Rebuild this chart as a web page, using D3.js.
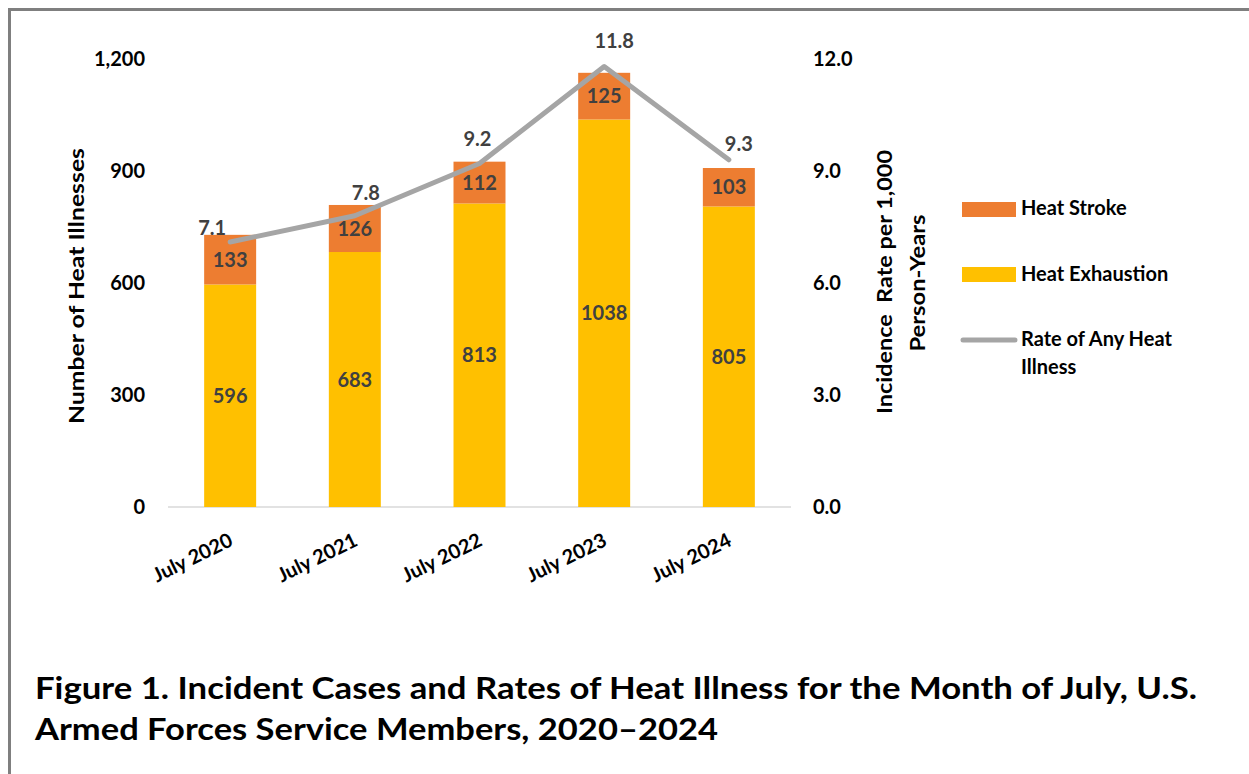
<!DOCTYPE html>
<html>
<head>
<meta charset="utf-8">
<script src="https://cdn.jsdelivr.net/npm/d3@7/dist/d3.min.js"></script>
<style>
  html, body { margin: 0; padding: 0; background: #fff; }
  svg text { font-family: Lato, "Open Sans", sans-serif; font-weight: bold; }
</style>
</head>
<body>
<div id="viz-container"></div>
<script>
var categories = ['July 2020', 'July 2021', 'July 2022', 'July 2023', 'July 2024'];
var exhaustion = [596, 683, 813, 1038, 805];
var stroke = [133, 126, 112, 125, 103];
var rates = [7.1, 7.8, 9.2, 11.8, 9.3];
var leftTicks = [0, 300, 600, 900, 1200];
var rightTicks = [0, 3, 6, 9, 12];

// where excel put the rate labels, relative to each point
var rateLabelOffset = [[-18, -14], [11, -23], [-2, -25], [10, -26], [10, -16]];

var ORANGE = '#ED7D31',
    YELLOW = '#FFC000',
    GREY = '#A5A5A5',
    LABEL = '#404040';

function init() {
	var svg = d3.select('#viz-container').append('svg')
		.attr('width', 1249)
		.attr('height', 774);

	// frame (only top and left edges show in the crop)
	svg.append('rect')
		.attr('x', 9.5).attr('y', 9.5)
		.attr('width', 1300).attr('height', 800)
		.attr('fill', 'none')
		.attr('stroke', '#7F7F7F')
		.attr('stroke-width', 3);

	var x = d3.scaleBand()
		.domain(categories)
		.range([168, 791])
		.paddingInner(0.583)
		.paddingOuter(0.29);

	var y = d3.scaleLinear().domain([0, 1200]).range([507, 59]);
	var yR = d3.scaleLinear().domain([0, 12]).range([507, 59]);

	var data = categories.map(function(c, i) {
		return {cat: c, exh: exhaustion[i], str: stroke[i], rate: rates[i]};
	});

	// baseline
	svg.append('line')
		.attr('x1', 168).attr('x2', 791)
		.attr('y1', y(0)).attr('y2', y(0))
		.attr('stroke', '#D9D9D9')
		.attr('stroke-width', 1.5);

	// left ticks
	svg.append('g').selectAll('text')
		.data(leftTicks)
		.enter().append('text')
		.attr('x', 145)
		.attr('y', function(d) { return y(d); })
		.attr('dy', '0.36em')
		.attr('text-anchor', 'end')
		.attr('font-size', 20)
		.text(function(d) { return d3.format(',')(d); });

	// right ticks
	svg.append('g').selectAll('text')
		.data(rightTicks)
		.enter().append('text')
		.attr('x', 813)
		.attr('y', function(d) { return yR(d); })
		.attr('dy', '0.36em')
		.attr('font-size', 20)
		.text(function(d) { return d3.format('.1f')(d); });

	// stacked bars
	var bars = svg.append('g');
	bars.selectAll('.exh')
		.data(data)
		.enter().append('rect')
		.attr('class', 'exh')
		.attr('x', function(d) { return x(d.cat); })
		.attr('width', x.bandwidth())
		.attr('y', function(d) { return y(d.exh); })
		.attr('height', function(d) { return y(0) - y(d.exh); })
		.attr('fill', YELLOW);

	bars.selectAll('.str')
		.data(data)
		.enter().append('rect')
		.attr('class', 'str')
		.attr('x', function(d) { return x(d.cat); })
		.attr('width', x.bandwidth())
		.attr('y', function(d) { return y(d.exh + d.str); })
		.attr('height', function(d) { return y(d.exh) - y(d.exh + d.str); })
		.attr('fill', ORANGE);

	// segment labels
	bars.selectAll('.exh-label')
		.data(data)
		.enter().append('text')
		.attr('x', function(d) { return x(d.cat) + x.bandwidth() / 2; })
		.attr('y', function(d) { return (y(0) + y(d.exh)) / 2; })
		.attr('dy', '0.36em')
		.attr('text-anchor', 'middle')
		.attr('font-size', 20)
		.attr('fill', LABEL)
		.text(function(d) { return d.exh; });

	bars.selectAll('.str-label')
		.data(data)
		.enter().append('text')
		.attr('x', function(d) { return x(d.cat) + x.bandwidth() / 2; })
		.attr('y', function(d) { return (y(d.exh) + y(d.exh + d.str)) / 2; })
		.attr('dy', '0.36em')
		.attr('text-anchor', 'middle')
		.attr('font-size', 20)
		.attr('fill', LABEL)
		.text(function(d) { return d.str; });

	// rate line
	var cx = function(d) { return x(d.cat) + x.bandwidth() / 2; };
	var line = d3.line()
		.x(cx)
		.y(function(d) { return yR(d.rate); });

	svg.append('path')
		.datum(data)
		.attr('d', line)
		.attr('fill', 'none')
		.attr('stroke', GREY)
		.attr('stroke-width', 5)
		.attr('stroke-linecap', 'round')
		.attr('stroke-linejoin', 'round');

	svg.append('g').selectAll('text')
		.data(data)
		.enter().append('text')
		.attr('x', function(d, i) { return cx(d) + rateLabelOffset[i][0]; })
		.attr('y', function(d, i) { return yR(d.rate) + rateLabelOffset[i][1]; })
		.attr('dy', '0.36em')
		.attr('text-anchor', 'middle')
		.attr('font-size', 20)
		.attr('fill', LABEL)
		.text(function(d) { return d3.format('.1f')(d.rate); });

	// category labels
	svg.append('g').selectAll('text')
		.data(categories)
		.enter().append('text')
		.attr('transform', function(d) {
			return 'translate(' + (x(d) + x.bandwidth() / 2 + 4) + ',545) rotate(-26)';
		})
		.attr('text-anchor', 'end')
		.attr('font-size', 20)
		.text(function(d) { return d; });

	// axis titles
	svg.append('text')
		.attr('transform', 'translate(84,286) rotate(-90)')
		.attr('text-anchor', 'middle')
		.attr('font-size', 20)
		.attr('textLength', 276)
		.attr('lengthAdjust', 'spacingAndGlyphs')
		.text('Number of Heat Illnesses');

	svg.append('text')
		.attr('transform', 'translate(892,282) rotate(-90)')
		.attr('text-anchor', 'middle')
		.attr('font-size', 20)
		.style('white-space', 'pre')
		.attr('textLength', 264)
		.attr('lengthAdjust', 'spacingAndGlyphs')
		.text('Incidence  Rate per 1,000');

	svg.append('text')
		.attr('transform', 'translate(925,283) rotate(-90)')
		.attr('text-anchor', 'middle')
		.attr('font-size', 20)
		.attr('textLength', 137)
		.attr('lengthAdjust', 'spacingAndGlyphs')
		.text('Person-Years');

	// legend
	var legend = svg.append('g');
	legend.append('rect')
		.attr('x', 962).attr('y', 202).attr('width', 54).attr('height', 15)
		.attr('fill', ORANGE);
	legend.append('text')
		.attr('x', 1021).attr('y', 215)
		.attr('font-size', 20)
		.text('Heat Stroke');

	legend.append('rect')
		.attr('x', 962).attr('y', 267).attr('width', 54).attr('height', 15)
		.attr('fill', YELLOW);
	legend.append('text')
		.attr('x', 1021).attr('y', 281)
		.attr('font-size', 20)
		.text('Heat Exhaustion');

	legend.append('line')
		.attr('x1', 963).attr('x2', 1015)
		.attr('y1', 340).attr('y2', 340)
		.attr('stroke', GREY)
		.attr('stroke-width', 5)
		.attr('stroke-linecap', 'round');
	legend.append('text')
		.attr('x', 1021).attr('y', 346)
		.attr('font-size', 20)
		.text('Rate of Any Heat');
	legend.append('text')
		.attr('x', 1021).attr('y', 374)
		.attr('font-size', 20)
		.text('Illness');

	// figure title
	svg.append('text')
		.attr('x', 35).attr('y', 699)
		.attr('font-size', 30)
		.attr('textLength', 1162)
		.attr('lengthAdjust', 'spacingAndGlyphs')
		.text('Figure 1. Incident Cases and Rates of Heat Illness for the Month of July, U.S.');
	svg.append('text')
		.attr('x', 35).attr('y', 740)
		.attr('font-size', 30)
		.attr('textLength', 683)
		.attr('lengthAdjust', 'spacingAndGlyphs')
		.text('Armed Forces Service Members, 2020\u20132024');
}

init();
</script>
</body>
</html>
